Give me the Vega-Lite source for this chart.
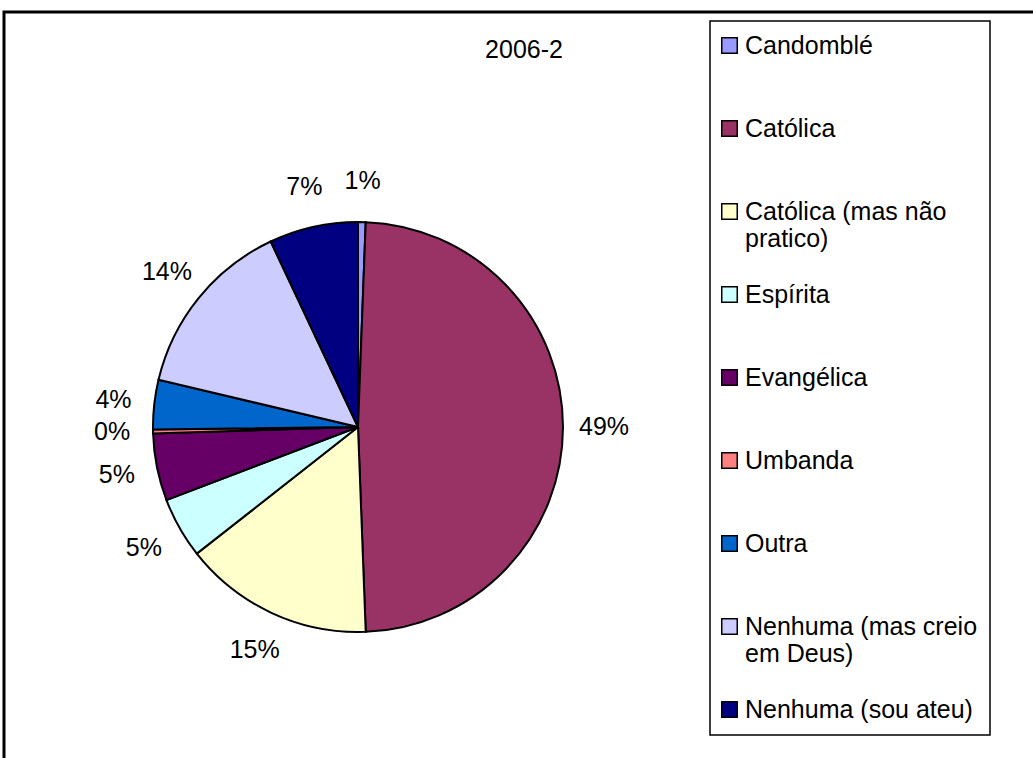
{
  "$schema": "https://vega.github.io/schema/vega-lite/v6.json",
  "autosize": {"type": "none"},
  "width": 1040,
  "height": 760,
  "padding": {"left": 4, "top": 12, "right": 0, "bottom": 0},
  "background": "white",
  "view": {"stroke": "black", "strokeWidth": 3, "fill": "white"},
  "title": {
    "text": "2006-2",
    "anchor": "middle",
    "frame": "group",
    "baseline": "alphabetic",
    "offset": 0,
    "dy": 71,
    "font": "Liberation Sans",
    "fontSize": 25,
    "fontWeight": "normal",
    "color": "black"
  },
  "data": {
    "values": [
      {"i": 1, "religiao": "Candomblé", "share": 0.006},
      {"i": 2, "religiao": "Católica", "share": 0.488},
      {"i": 3, "religiao": "Católica (mas não pratico)", "share": 0.150},
      {"i": 4, "religiao": "Espírita", "share": 0.048},
      {"i": 5, "religiao": "Evangélica", "share": 0.053},
      {"i": 6, "religiao": "Umbanda", "share": 0.003},
      {"i": 7, "religiao": "Outra", "share": 0.039},
      {"i": 8, "religiao": "Nenhuma (mas creio em Deus)", "share": 0.143},
      {"i": 9, "religiao": "Nenhuma (sou ateu)", "share": 0.070}
    ]
  },
  "encoding": {
    "theta": {"field": "share", "type": "quantitative", "stack": true},
    "order": {"field": "i", "type": "quantitative", "sort": "ascending"}
  },
  "layer": [
    {
      "mark": {"type": "arc", "outerRadius": 205, "x": 354, "y": 415, "stroke": "black", "strokeWidth": 2},
      "encoding": {
        "color": {
          "field": "religiao",
          "type": "nominal",
          "sort": null,
          "scale": {"range": ["#9999FF", "#993366", "#FFFFCC", "#CCFFFF", "#660066", "#FF8080", "#0066CC", "#CCCCFF", "#000080"]},
          "legend": {
            "title": null,
            "orient": "none",
            "legendX": 706,
            "legendY": 9,
            "padding": 12,
            "strokeColor": "black",
            "fillColor": "white",
            "symbolType": "square",
            "symbolSize": 240,
            "symbolStrokeColor": "black",
            "symbolStrokeWidth": 1.5,
            "symbolOpacity": 1,
            "symbolOffset": -5,
            "labelFont": "Liberation Sans",
            "labelFontSize": 25,
            "labelColor": "black",
            "labelOffset": 3,
            "labelLimit": 500,
            "gridAlign": "all",
            "rowPadding": 30,
            "labelExpr": "datum.label == 'Católica (mas não pratico)' ? ['Católica (mas não', 'pratico)'] : datum.label == 'Nenhuma (mas creio em Deus)' ? ['Nenhuma (mas creio', 'em Deus)'] : datum.label"
          }
        }
      }
    },
    {
      "mark": {"type": "text", "radius": 246, "x": 354, "y": 415, "font": "Liberation Sans", "fontSize": 25, "color": "black", "align": "center", "baseline": "middle"},
      "encoding": {
        "text": {"field": "share", "type": "quantitative", "format": ".0%"}
      }
    }
  ],
  "config": {
    "view": {"stroke": "black", "strokeWidth": 3},
    "legend": {"strokeWidth": 1.5}
  }
}
